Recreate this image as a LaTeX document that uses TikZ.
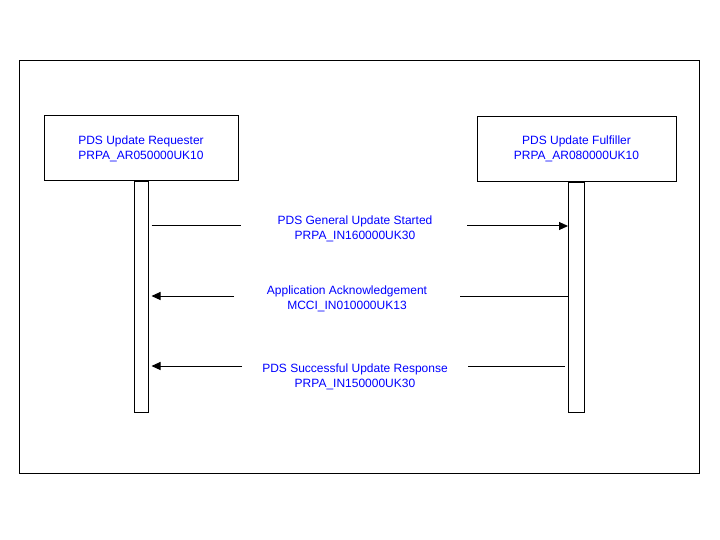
\documentclass[tikz,border=0pt]{standalone}
\usepackage{fontspec}
\setmainfont{Liberation Sans}
\usepackage{xcolor}
\usetikzlibrary{arrows.meta, calc}
\definecolor{msgblue}{RGB}{0,0,255}

\begin{document}
\begin{tikzpicture}[x = 1pt, y = -1pt, line width = 1pt,
    role/.style = {draw, minimum width = #1, minimum height = 65pt, inner sep = 0pt,
        align = center, text = msgblue, font = \fontsize{12}{15}\selectfont},
    lifebar/.style = {draw, anchor = north, minimum width = #1, minimum height = 230pt, inner sep = 0pt},
    msg/.style = {align = center, text = msgblue, inner sep = 0pt, font = \fontsize{12}{15}\selectfont},
    send/.style = {-{Triangle[length = 9pt, width = 8pt]}}]
    % Parametri
    \pgfmathsetmacro{\gap}{3}
    \useasboundingbox (0,0) rectangle (720,540);
    % Cornice
    \draw (19.5,60.5) rectangle (699.5,473.5);
    % Ruoli
    \node[role = 194pt, text depth = 2pt] (req) at (141,148.5) {PDS Update Requester\\PRPA\_AR050000UK10};
    \node[role = 199pt, text depth = 2pt] (ful) at (576.5,149) {PDS Update Fulfiller\\PRPA\_AR080000UK10};
    \node[lifebar = 14pt] (reqbar) at (req.south) {};
    \node[lifebar = 16pt] (fulbar) at (ful.south) {};
    % Messaggi
    \node[msg] (m1) at (355,229) {PDS General Update Started\\PRPA\_IN160000UK30};
    \node[msg] (m2) at (347,299) {Application Acknowledgement\\MCCI\_IN010000UK13};
    \node[msg] (m3) at (355,377) {PDS Successful Update Response\\PRPA\_IN150000UK30};
    \coordinate (m1a) at (241,226);
    \coordinate (m1b) at (467,226);
    \coordinate (m2a) at (234,296);
    \coordinate (m2b) at (460,296);
    \coordinate (m3a) at (242,366);
    \coordinate (m3b) at (468,366);
    \draw ($(reqbar.east |- m1a)+(\gap,0)$) -- (m1a);
    \draw[send] (m1b) -- (fulbar.west |- m1b);
    \draw (fulbar.west |- m2b) -- (m2b);
    \draw[send] (m2a) -- ($(reqbar.east |- m2a)+(\gap,0)$);
    \draw ($(fulbar.west |- m3b)-(\gap,0)$) -- (m3b);
    \draw[send] (m3a) -- ($(reqbar.east |- m3a)+(\gap,0)$);
\end{tikzpicture}
\end{document}
